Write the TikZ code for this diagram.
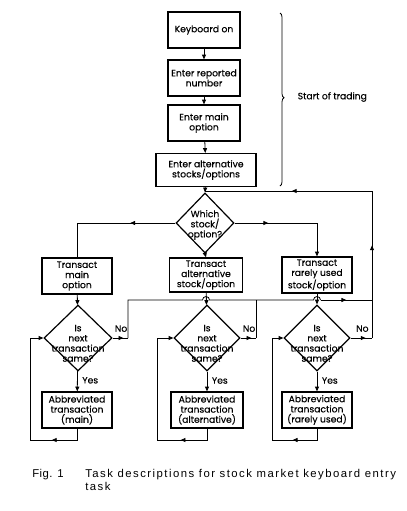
\documentclass[tikz,border=0pt]{standalone}
\usepackage{fontspec}
\setmainfont{Poppins}[FakeBold=0.3]
\newfontfamily\capfont[LetterSpace=13]{Liberation Sans}
\newfontfamily\figfont[LetterSpace=4]{Liberation Sans}
\usetikzlibrary{shapes.geometric,arrows.meta,calc,decorations.markings,decorations.pathreplacing}

\newcommand{\chartfont}{\fontsize{6.9}{7.6}\selectfont}

\tikzset{
  tip/.tip={Triangle[length=3.6pt,width=3pt]},
  line/.style={line width=0.6pt},
  flow/.style={line, -tip},
  arrowat/.style={line, postaction={decorate},
    decoration={markings, mark=at position #1 with {\arrow{tip}}}},
  stepbox/.style={draw, line width=0.9pt, align=center, inner sep=1pt,
    font=\chartfont, minimum width=52.5pt, minimum height=27pt},
  query/.style={draw, diamond, line width=0.9pt, inner sep=0pt,
    minimum width=51pt, minimum height=49.5pt},
  querytext/.style={align=center, font=\chartfont, inner sep=0pt},
}

\begin{document}
\begin{tikzpicture}[x=0.75pt,y=0.75pt,yscale=-1,xscale=1]
\useasboundingbox (0,0) rectangle (407,511);

% start of trading
\node[stepbox, minimum width=54pt] (kbd) at (204,30) {Keyboard on};
\node[stepbox, minimum width=54pt] (report) at (204,78) {Enter reported\\number};
\node[stepbox, minimum width=54pt] (mainopt) at (204,123) {Enter main\\option};
\node[stepbox, minimum width=75pt, minimum height=24.75pt] (altopt) at (206,170) {Enter alternative\\stocks/options};
\draw [flow] (kbd) -- (report);
\draw [flow] (report) -- (mainopt);
\draw [flow] (mainopt) -- (altopt);

\draw [line, decorate, decoration={brace, amplitude=3pt, aspect=0.49}] (280,13) -- (280,186);
\node[font=\chartfont, anchor=west] (start) at (293,97) {Start of trading};

% choice of stock
\node[query, minimum width=43.5pt, minimum height=45pt] (which) at (205,223) {};
\node[querytext] at ([yshift=1.5pt]which.center) {Which\\stock/\\option?};
\draw [flow] (altopt) -- (which.north);

\node[stepbox] (tmain) at (77,276) {Transact\\main\\option};
\node[stepbox, minimum width=54.75pt, minimum height=25.5pt] (talt) at (206,275) {Transact\\alternative\\stock/option};
\node[stepbox] (trare) at (317,275) {Transact\\rarely used\\stock/option};

\draw [arrowat=0.34] (which.west) -- (which.west -| tmain.north) -- (tmain.north);
\draw [flow] (which.south) -- (talt.north);
\draw [arrowat=0.29, -tip] (which.east) -- (which.east -| trare.north) -- (trare.north);

% is next transaction same?
\node[query] (qmain) at (78,338) {};
\node[querytext] at ([yshift=4pt]qmain.center) {Is\\next\\transaction\\same?};
\node[query, minimum width=49.5pt] (qalt) at (207,338) {};
\node[querytext] at ([yshift=4pt]qalt.center) {Is\\next\\transaction\\same?};
\node[query, minimum width=49.5pt] (qrare) at (317,338) {};
\node[querytext] at ([yshift=4pt]qrare.center) {Is\\next\\transaction\\same?};

\draw [flow] (tmain) -- (qmain);
\draw [flow] (talt) -- (qalt);
\draw [flow] (trare) -- (qrare);

\node[stepbox] (amain) at (77,410) {Abbreviated\\transaction\\(main)};
\node[stepbox, minimum width=54pt] (aalt) at (207,410) {Abbreviated\\transaction\\(alternative)};
\node[stepbox] (arare) at (317,410) {Abbreviated\\transaction\\(rarely used)};

\draw [flow] (qmain) -- node[right, font=\chartfont, pos=0.45] {Yes} (amain);
\draw [flow] (qalt) -- node[right, font=\chartfont, pos=0.45] {Yes} (aalt);
\draw [flow] (qrare) -- node[right, font=\chartfont, pos=0.45] {Yes} (arare);

% repeat loops
\coordinate (lmain) at (30,440);
\coordinate (lalt) at (157,440);
\coordinate (lrare) at (272,440);
\draw [arrowat=0.21, -tip] (amain.south) -- (amain.south |- lmain) -- (lmain) -- (lmain |- qmain.west) -- (qmain.west);
\draw [arrowat=0.21, -tip] (aalt.south) -- (aalt.south |- lalt) -- (lalt) -- (lalt |- qalt.west) -- (qalt.west);
\draw [arrowat=0.21, -tip] (arare.south) -- (arare.south |- lrare) -- (lrare) -- (lrare |- qrare.west) -- (qrare.west);

% no: back to choice of stock
\coordinate (jmain) at (128,300);
\coordinate (jalt) at (256,300);
\coordinate (jright) at (372,300);
\coordinate (jtop) at (372,191);
\coordinate (jwhich) at (205,191);

\draw [arrowat=0.7] (qmain.east) -- node[above, font=\chartfont, pos=0.55, yshift=1pt] {No} (qmain.east -| jmain);
\draw [arrowat=0.7] (qalt.east) -- node[above, font=\chartfont, pos=0.55, yshift=1pt] {No} (qalt.east -| jalt);
\draw [arrowat=0.7] (qrare.east) -- node[above, font=\chartfont, pos=0.55, yshift=1pt] {No} (qrare.east -| jright);
\draw [line] (qmain.east -| jmain) -- (jmain)
  -- ($(talt.south |- jmain)+(-3.5,0)$) arc[start angle=180, end angle=360, radius=3.5]
  -- ($(trare.south |- jmain)+(-3.5,0)$) arc[start angle=180, end angle=360, radius=3.5];
\draw [line] (qalt.east -| jalt) -- (jalt);
\draw [arrowat=0.5] ($(trare.south |- jmain)+(3.5,0)$) -- (jright);
\draw [arrowat=0.63] (qrare.east -| jright) -- (jtop);
\draw [arrowat=0.48] (jtop) -- (jwhich);

% caption
\node[font=\figfont\fontsize{8.5}{9.75}\selectfont, anchor=base west, inner sep=0pt] (fig) at (32,477) {Fig. 1};
\node[font=\capfont\fontsize{8.5}{9.75}\selectfont, anchor=north west, align=left, inner sep=0pt] (caption) at (85,469) {Task descriptions for stock market keyboard entry\\task};
\end{tikzpicture}
\end{document}
